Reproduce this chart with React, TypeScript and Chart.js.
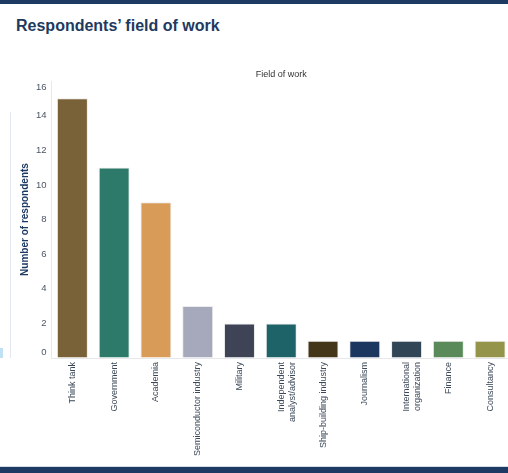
import { useEffect, useRef } from 'react'
import { Chart, registerables } from 'chart.js'

Chart.register(...registerables)

const fields = [
  'Think tank',
  'Government',
  'Academia',
  'Semiconductor industry',
  'Military',
  ['Independent', 'analyst/advisor'],
  'Ship-building industry',
  'Journalism',
  ['International', 'organization'],
  'Finance',
  'Consultancy',
]
const respondents = [15, 11, 9, 3, 2, 2, 1, 1, 1, 1, 1]
const barColors = [
  '#7a6238', '#2e7a6a', '#d99b58', '#a6a9bc', '#3e4355', '#1e6368',
  '#433619', '#1b375f', '#304555', '#5b8a5a', '#94944a',
]
const yTicks = [0, 2, 4, 6, 8, 10, 12, 14, 16]

const NAVY = '#1c3a62'
const FONT = '"Liberation Sans", Arial, sans-serif'

// the end labels of the y axis sit inside the axis, as in the reference
const insetEndLabels = {
  id: 'insetEndLabels',
  beforeDraw(chart: any) {
    const s = chart.scales.y
    const items = s.getLabelItems()
    if (!items.length) return
    const first = items[0], last = items[items.length - 1]
    first.options = { ...first.options, translation: [first.options.translation[0], first.options.translation[1] - 5.5] }
    last.options = { ...last.options, translation: [last.options.translation[0], last.options.translation[1] + 6.5] }
  },
}

export default function App() {
  const canvasRef = useRef<HTMLCanvasElement>(null)

  useEffect(() => {
    document.body.style.margin = '0'
    document.body.style.overflow = 'hidden'
    if (!canvasRef.current) return
    const chart = new Chart(canvasRef.current, {
      type: 'bar',
      data: {
        labels: fields,
        datasets: [{
          label: 'Respondents',
          data: respondents,
          backgroundColor: barColors,
          borderColor: 'rgba(232,232,232,0.85)',
          borderWidth: 1,
          barPercentage: 0.742,
          categoryPercentage: 1,
        }],
      },
      options: {
        responsive: true, maintainAspectRatio: false, animation: false,
        layout: { padding: 0 },
        plugins: { legend: { display: false }, tooltip: { enabled: false }, title: { display: false } },
        scales: {
          x: {
            position: 'bottom',
            grid: { display: true, drawOnChartArea: false, drawTicks: false },
            border: { display: true, color: '#e6e8ec' },
            ticks: {
              minRotation: 90, maxRotation: 90, padding: 4, autoSkip: false,
              color: '#3c4858', font: { family: FONT, size: 9, lineHeight: 1.25 },
            },
            afterFit: (s: any) => { s.height = 108 },
          },
          x2: {
            type: 'category',
            position: 'top',
            labels: fields as any,
            grid: { display: false },
            border: { display: false },
            ticks: { display: false },
            title: {
              display: true, text: 'Field of work', color: '#333',
              font: { family: FONT, size: 9 }, padding: { top: 7.6, bottom: 0 },
            },
            afterFit: (s: any) => { s.height = 19 },
          },
          y: {
            min: 0, max: 16,
            afterBuildTicks: (s: any) => { s.ticks = yTicks.map(v => ({ value: v })) },
            grid: { display: true, drawOnChartArea: false, drawTicks: false },
            border: { display: true, color: '#e6e8ec' },
            ticks: { padding: 5, color: '#4b5565', font: { family: FONT, size: 9.5 } },
            title: {
              display: true, text: 'Number of respondents', color: NAVY,
              font: { family: FONT, size: 10, weight: 'bold' }, padding: { top: 19, bottom: 0 },
            },
            afterFit: (s: any) => { s.width = 51.5 },
          },
        },
      },
      plugins: [insetEndLabels],
    })
    return () => chart.destroy()
  }, [])

  return (
    <div style={{ position: 'relative', width: 508, height: 473, overflow: 'hidden', background: '#fff', fontFamily: FONT }}>
      <div style={{ position: 'absolute', left: 0, top: 0, width: 508, height: 4, background: NAVY }} />
      <div style={{ position: 'absolute', left: 16, top: 18, fontSize: 16, lineHeight: '16px', fontWeight: 'bold', color: '#1e3a5f', whiteSpace: 'nowrap' }}>
        Respondents’ field of work
      </div>
      <div style={{ position: 'absolute', left: 10, top: 112, width: 1, height: 246, background: '#e3e8ee' }} />
      <div style={{ position: 'absolute', left: 0, top: 348, width: 3, height: 10, background: '#bfe0f5' }} />
      <div style={{ position: 'absolute', left: 0, top: 62, width: 511, height: 404 }}>
        <canvas ref={canvasRef} />
      </div>
      <div style={{ position: 'absolute', left: 0, top: 466, width: 508, height: 1, background: '#d8dde5' }} />
      <div style={{ position: 'absolute', left: 0, top: 467, width: 508, height: 6, background: NAVY }} />
    </div>
  )
}
